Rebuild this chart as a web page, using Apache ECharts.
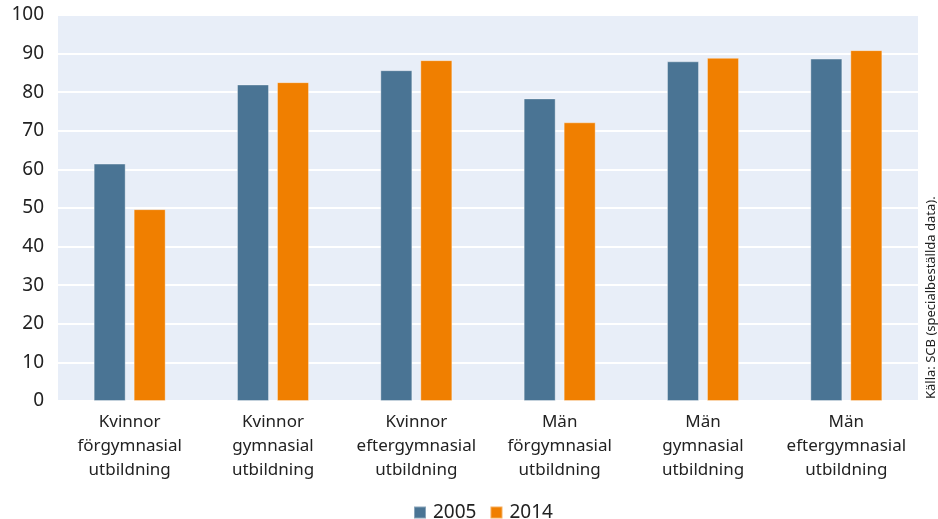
<!DOCTYPE html>
<html>
<head>
<meta charset="utf-8">
<script src="https://cdn.jsdelivr.net/npm/echarts@6/dist/echarts.min.js"></script>
<style>
  html, body { margin: 0; padding: 0; background: #fff; }
  #chart { width: 938px; height: 519px; }
</style>
</head>
<body>
<div id="chart"></div>
<script>
// kategorier och värden
const categories = [
  'Kvinnor\nförgymnasial\nutbildning',
  'Kvinnor\ngymnasial\nutbildning',
  'Kvinnor\neftergymnasial\nutbildning',
  'Män\nförgymnasial\nutbildning',
  'Män\ngymnasial\nutbildning',
  'Män\neftergymnasial\nutbildning'
]
const values2005 = [61.5, 82.0, 85.7, 78.4, 88.0, 88.7]
const values2014 = [49.7, 82.6, 88.3, 72.2, 88.9, 90.9]
const sourceText = 'Källa: SCB (specialbeställda data).'

const font = '"Noto Sans", "DejaVu Sans", sans-serif'
const chart = echarts.init(document.getElementById('chart'), null, { renderer: 'canvas' })

chart.setOption({
  animation: false,
  textStyle: { fontFamily: font },
  grid: { left: 58, right: 20, top: 15, bottom: 118, containLabel: false,
    show: true, backgroundColor: '#e8eef8', borderWidth: 0 },
  legend: {
    top: 498,
    left: 408,
    icon: 'rect',
    itemWidth: 12,
    itemHeight: 12,
    itemGap: 13,
    textStyle: { fontSize: 19, color: '#222', fontFamily: font, padding: [0, 0, 0, 2] }
  },
  xAxis: {
    type: 'category',
    data: categories,
    axisLine: { show: false },
    axisTick: { show: false },
    axisLabel: { fontSize: 17, color: '#222', lineHeight: 24, margin: 9, interval: 0 }
  },
  yAxis: {
    type: 'value',
    min: 0,
    max: 100,
    interval: 10,
    axisLine: { show: false },
    axisTick: { show: false },
    axisLabel: { fontSize: 19, color: '#222', margin: 14 },
    splitLine: { lineStyle: { color: '#ffffff', width: 2 } }
  },
  series: [
    {
      name: '2005',
      type: 'bar',
      data: values2005,
      barWidth: 32,
      barGap: '25%',
      itemStyle: { color: '#4a7494', borderColor: 'rgba(255,255,255,0.35)', borderWidth: 1 }
    },
    {
      name: '2014',
      type: 'bar',
      data: values2014,
      barWidth: 32,
      itemStyle: { color: '#f07f00', borderColor: 'rgba(255,255,255,0.35)', borderWidth: 1 }
    }
  ],
  graphic: [
    {
      type: 'text',
      x: 931,
      y: 399,
      rotation: Math.PI / 2,
      style: {
        text: sourceText,
        fontSize: 13,
        fontFamily: font,
        fill: '#222',
        align: 'left',
        verticalAlign: 'middle'
      }
    }
  ]
})
</script>
</body>
</html>
